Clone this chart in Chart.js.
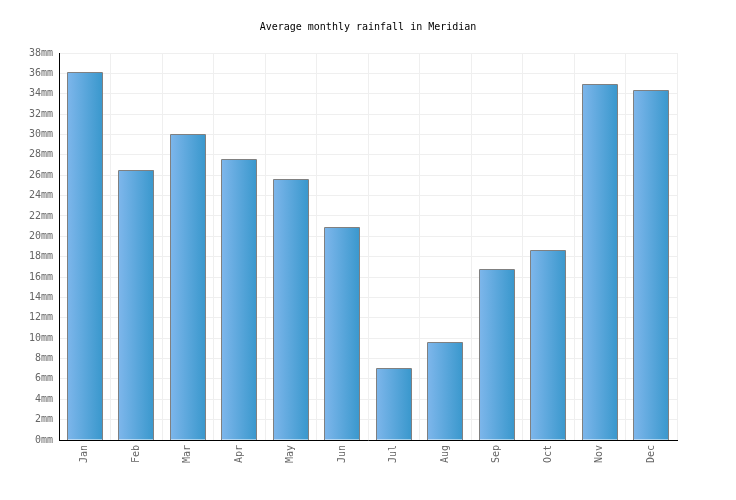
<!DOCTYPE html>
<html>
<head>
<meta charset="utf-8">
<script src="https://cdn.jsdelivr.net/npm/chart.js@4"></script>
<style>
  html, body { margin: 0; padding: 0; background: #fff; }
  #wrap { width: 736px; height: 500px; position: relative; }
</style>
</head>
<body>
<div id="wrap"><canvas id="c"></canvas></div>
<script>
const months = ["Jan","Feb","Mar","Apr","May","Jun","Jul","Aug","Sep","Oct","Nov","Dec"];
const rainfall = [36.1, 26.5, 30.0, 27.5, 25.6, 20.9, 7.0, 9.6, 16.7, 18.6, 34.9, 34.3];
const yTicks = [0,2,4,6,8,10,12,14,16,18,20,22,24,26,28,30,32,34,36,38];
const titleText = "Average monthly rainfall in Meridian";
const unit = "mm";

const FONT = "'DejaVu Sans Mono', 'Liberation Mono', monospace";
const BAR_FRACTION = 0.67;

function barGradient(ctx) {
  const chart = ctx.chart;
  const area = chart.chartArea;
  if (!area) return '#5aa7de';
  const xs = chart.scales.x;
  const cx = xs.getPixelForValue(ctx.dataIndex);
  const w = (xs.width / months.length) * BAR_FRACTION;
  const g = chart.ctx.createLinearGradient(cx - w / 2, 0, cx + w / 2, 0);
  g.addColorStop(0, '#7db6eb');
  g.addColorStop(1, '#3a98cd');
  return g;
}

// crisp 1px outline around each bar, using the library's computed bar geometry
const crispOutline = {
  id: 'crispOutline',
  afterDatasetsDraw(chart) {
    const meta = chart.getDatasetMeta(0);
    const c = chart.ctx;
    c.save();
    c.strokeStyle = '#808080';
    c.lineWidth = 1;
    meta.data.forEach((bar) => {
      const p = bar.getProps(['x', 'y', 'base', 'width'], true);
      const l = Math.floor(p.x - p.width / 2) + 0.5;
      const r = Math.ceil(p.x + p.width / 2) - 0.5;
      const t = Math.floor(p.y) + 0.5;
      const b = Math.round(p.base);
      c.beginPath();
      c.moveTo(l, b);
      c.lineTo(l, t);
      c.lineTo(r, t);
      c.lineTo(r, b);
      c.stroke();
    });
    c.restore();
  }
};

new Chart(document.getElementById('c'), {
  type: 'bar',
  data: {
    labels: months,
    datasets: [{
      data: rainfall,
      backgroundColor: barGradient,
      borderWidth: 0,
      barPercentage: BAR_FRACTION,
      categoryPercentage: 1.0
    }]
  },
  plugins: [crispOutline],
  options: {
    responsive: true,
    maintainAspectRatio: false,
    animation: false,
    layout: { padding: 0 },
    plugins: {
      legend: { display: false },
      tooltip: { enabled: false },
      title: {
        display: true,
        text: titleText,
        color: '#000',
        font: { family: FONT, size: 10, weight: 'normal', lineHeight: 1.2 },
        padding: { top: 21, bottom: 20 }
      }
    },
    scales: {
      x: {
        grid: { color: '#efefef', lineWidth: 1, offset: true, drawTicks: false },
        border: { color: '#000', width: 1 },
        ticks: {
          color: '#666',
          font: { family: FONT, size: 10 },
          maxRotation: 90, minRotation: 90,
          padding: 5,
          autoSkip: false
        },
        afterFit: (s) => { s.height = 60; }
      },
      y: {
        min: 0, max: 38,
        afterBuildTicks: (s) => { s.ticks = yTicks.map(v => ({ value: v })); },
        grid: { color: '#efefef', lineWidth: 1, drawTicks: false },
        border: { color: '#000', width: 1 },
        ticks: {
          color: '#666',
          font: { family: FONT, size: 10 },
          padding: 6,
          callback: (v) => v + unit
        },
        afterFit: (s) => { s.width = 59; }
      },
      yRight: {
        position: 'right',
        min: 0, max: 38,
        grid: { display: false, drawTicks: false },
        border: { display: false },
        ticks: { display: false },
        afterFit: (s) => { s.width = 59; }
      }
    }
  }
});
</script>
</body>
</html>
